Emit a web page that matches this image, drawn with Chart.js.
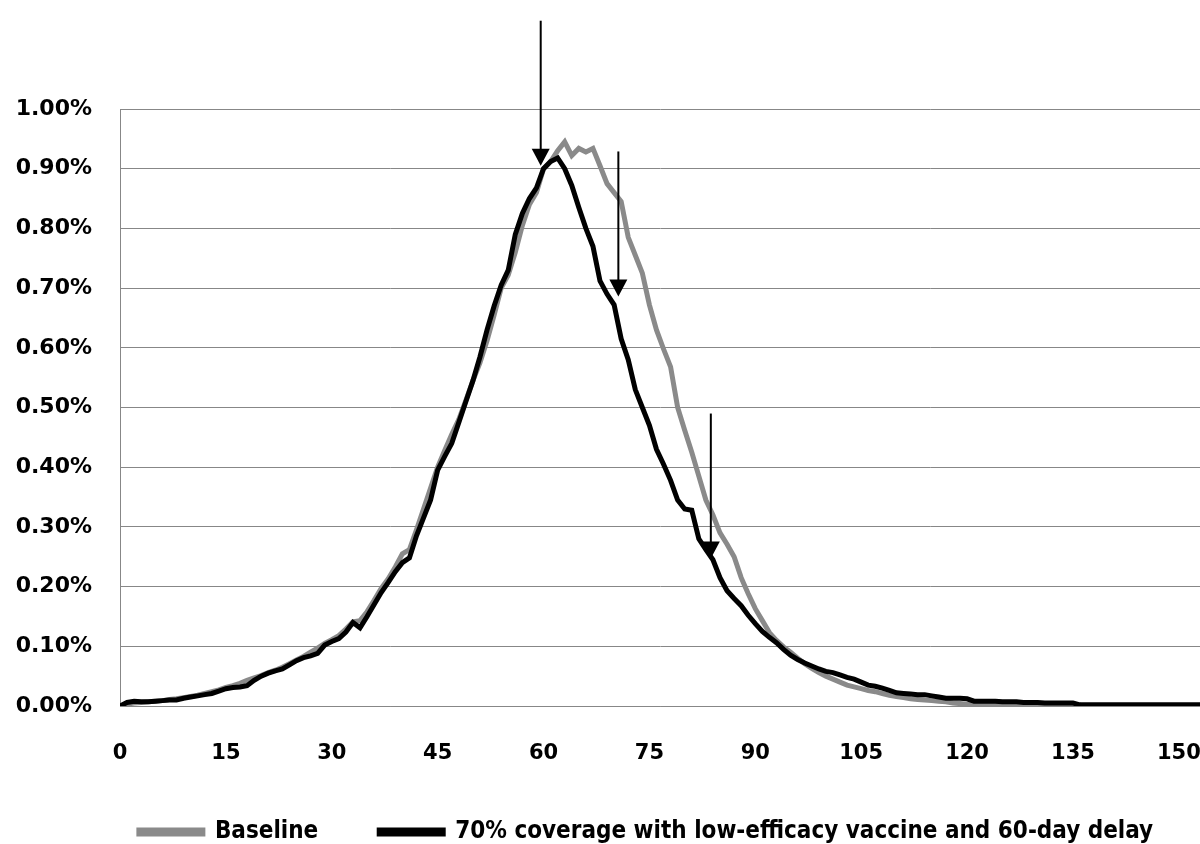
<!DOCTYPE html>
<html>
<head>
<meta charset="utf-8">
<script src="https://cdn.jsdelivr.net/npm/chart.js@4.4.1/dist/chart.umd.min.js"></script>
<style>
  html, body { margin: 0; padding: 0; background: #fff; }
  #wrap { width: 1200px; height: 844px; }
</style>
</head>
<body>
<div id="wrap"><canvas id="chart" width="1200" height="844"></canvas></div>
<script>
// days since start (0..153)
const days = Array.from({ length: 154 }, (_, i) => i);

// daily incidence, % of population
const baseline = [
  0.000, 0.003, 0.005, 0.006, 0.007, 0.008, 0.009, 0.011, 0.012, 0.014,
  0.016, 0.018, 0.021, 0.024, 0.027, 0.031, 0.034, 0.038, 0.043, 0.047,
  0.051, 0.056, 0.060, 0.065, 0.071, 0.077, 0.083, 0.090, 0.097, 0.105,
  0.111, 0.118, 0.129, 0.141, 0.143, 0.158, 0.177, 0.197, 0.213, 0.233,
  0.255, 0.262, 0.295, 0.330, 0.365, 0.400, 0.428, 0.455, 0.480, 0.512,
  0.545, 0.575, 0.612, 0.655, 0.700, 0.722, 0.760, 0.805, 0.840, 0.860,
  0.900, 0.912, 0.930, 0.945, 0.922, 0.934, 0.928, 0.934, 0.905, 0.875,
  0.860, 0.845, 0.785, 0.755, 0.725, 0.672, 0.630, 0.598, 0.568, 0.500,
  0.462, 0.425, 0.385, 0.345, 0.320, 0.290, 0.271, 0.250, 0.215, 0.188,
  0.163, 0.143, 0.123, 0.110, 0.099, 0.090, 0.080, 0.071, 0.063, 0.056,
  0.050, 0.045, 0.040, 0.035, 0.032, 0.029, 0.026, 0.024, 0.021, 0.018,
  0.016, 0.014, 0.012, 0.011, 0.010, 0.009, 0.008, 0.007, 0.005, 0.004,
  0.003, 0.002, 0.001, 0.001, 0.001, 0.000, 0.000, 0.000, 0.000, 0.000,
  0.000, 0.000, 0.000, 0.000, 0.000, 0.000, 0.000, 0.000, 0.000, 0.000,
  0.000, 0.000, 0.000, 0.000, 0.000, 0.000, 0.000, 0.000, 0.000, 0.000,
  0.000, 0.000, 0.000, 0.000
];

const lowEfficacy = [
  0.000, 0.006, 0.008, 0.007, 0.007, 0.008, 0.009, 0.010, 0.010, 0.013,
  0.015, 0.017, 0.019, 0.021, 0.025, 0.029, 0.031, 0.032, 0.034, 0.043,
  0.050, 0.055, 0.059, 0.062, 0.069, 0.076, 0.081, 0.084, 0.088, 0.102,
  0.108, 0.113, 0.124, 0.140, 0.131, 0.150, 0.170, 0.190, 0.207, 0.225,
  0.240, 0.248, 0.285, 0.315, 0.345, 0.395, 0.418, 0.440, 0.475, 0.510,
  0.545, 0.585, 0.630, 0.670, 0.705, 0.730, 0.790, 0.825, 0.850, 0.868,
  0.900, 0.912, 0.918, 0.900, 0.872, 0.835, 0.800, 0.770, 0.712, 0.690,
  0.672, 0.615, 0.580, 0.530, 0.500, 0.470, 0.430, 0.405, 0.378, 0.345,
  0.330, 0.328, 0.280, 0.262, 0.245, 0.215, 0.193, 0.180, 0.168, 0.152,
  0.138, 0.125, 0.115, 0.106, 0.095, 0.085, 0.078, 0.072, 0.067, 0.062,
  0.058, 0.056, 0.052, 0.048, 0.045, 0.040, 0.035, 0.033, 0.030, 0.026,
  0.022, 0.021, 0.020, 0.019, 0.019, 0.017, 0.015, 0.013, 0.013, 0.013,
  0.012, 0.008, 0.008, 0.008, 0.008, 0.007, 0.007, 0.007, 0.006, 0.006,
  0.006, 0.005, 0.005, 0.005, 0.005, 0.005, 0.002, 0.002, 0.002, 0.002,
  0.002, 0.002, 0.002, 0.002, 0.002, 0.002, 0.002, 0.002, 0.002, 0.002,
  0.002, 0.002, 0.002, 0.002
];

// annotation arrows: day and value at the arrow tip
const arrowDays = [59.6, 70.6, 83.7];
const arrowTips = [0.905, 0.686, 0.247];

const seriesNames = ['Baseline', '70% coverage with low-efficacy vaccine and 60-day delay'];

const gridGray = '#878787';

// vertical arrows pointing down at the curves
const arrowPlugin = {
  id: 'arrows',
  afterDatasetsDraw(chart) {
    const { ctx, scales: { x, y } } = chart;
    ctx.save();
    ctx.strokeStyle = '#000';
    ctx.fillStyle = '#000';
    ctx.lineWidth = 2;
    arrowDays.forEach((d, i) => {
      const px = x.getPixelForValue(d);
      const tip = y.getPixelForValue(arrowTips[i]);
      ctx.beginPath();
      ctx.moveTo(px, tip - 145);
      ctx.lineTo(px, tip - 14);
      ctx.stroke();
      ctx.beginPath();
      ctx.moveTo(px - 9, tip - 17);
      ctx.lineTo(px + 9, tip - 17);
      ctx.lineTo(px, tip);
      ctx.closePath();
      ctx.fill();
    });
    ctx.restore();
  }
};

// nudge legend to the right like the original
const legendShift = {
  id: 'legendShift',
  afterLayout(chart) {
    chart.legend.left += 46;
    chart.legend.right += 46;
  }
};

const tickFont = { family: '"DejaVu Sans", Verdana, sans-serif', size: 22, weight: 'bold' };
const xTickFont = { family: '"DejaVu Sans", Verdana, sans-serif', size: 21, weight: 'bold' };

new Chart(document.getElementById('chart'), {
  type: 'line',
  data: {
    labels: days,
    datasets: [
      {
        label: seriesNames[0],
        data: baseline,
        borderColor: '#8a8a8a',
        backgroundColor: '#8a8a8a',
        borderWidth: 5,
        pointRadius: 0,
        tension: 0,
        order: 1
      },
      {
        label: seriesNames[1],
        data: lowEfficacy,
        borderColor: '#000',
        backgroundColor: '#000',
        borderWidth: 5,
        pointRadius: 0,
        tension: 0,
        order: 0
      }
    ]
  },
  options: {
    responsive: false,
    animation: false,
    layout: { padding: { top: 109, right: 0, bottom: -10, left: 0 } },
    scales: {
      x: {
        type: 'linear',
        min: 0,
        max: 153,
        afterFit(s) { s.paddingRight = 0; s.height = 53; },
        grid: { display: false, drawTicks: false },
        border: { color: gridGray, width: 1 },
        ticks: {
          stepSize: 15,
          includeBounds: false,
          maxRotation: 0,
          color: '#000',
          font: xTickFont,
          padding: 35
        }
      },
      y: {
        min: 0,
        max: 1,
        afterFit(s) { s.width = 120; },
        grid: { color: gridGray, lineWidth: 1, drawTicks: false },
        border: { color: gridGray, width: 1 },
        ticks: {
          stepSize: 0.1,
          color: '#000',
          font: tickFont,
          padding: 28,
          callback: v => v.toFixed(2) + '%'
        }
      }
    },
    plugins: {
      legend: {
        position: 'bottom',
        labels: {
          color: '#000',
          boxWidth: 64,
          boxHeight: 4,
          padding: 61,
          sort: (a, b) => a.datasetIndex - b.datasetIndex,
          font: { family: '"DejaVu Sans Condensed", "Liberation Sans Narrow", "DejaVu Sans", sans-serif', size: 24, weight: 'bold' }
        }
      },
      tooltip: { enabled: false }
    }
  },
  plugins: [arrowPlugin, legendShift]
});
</script>
</body>
</html>
